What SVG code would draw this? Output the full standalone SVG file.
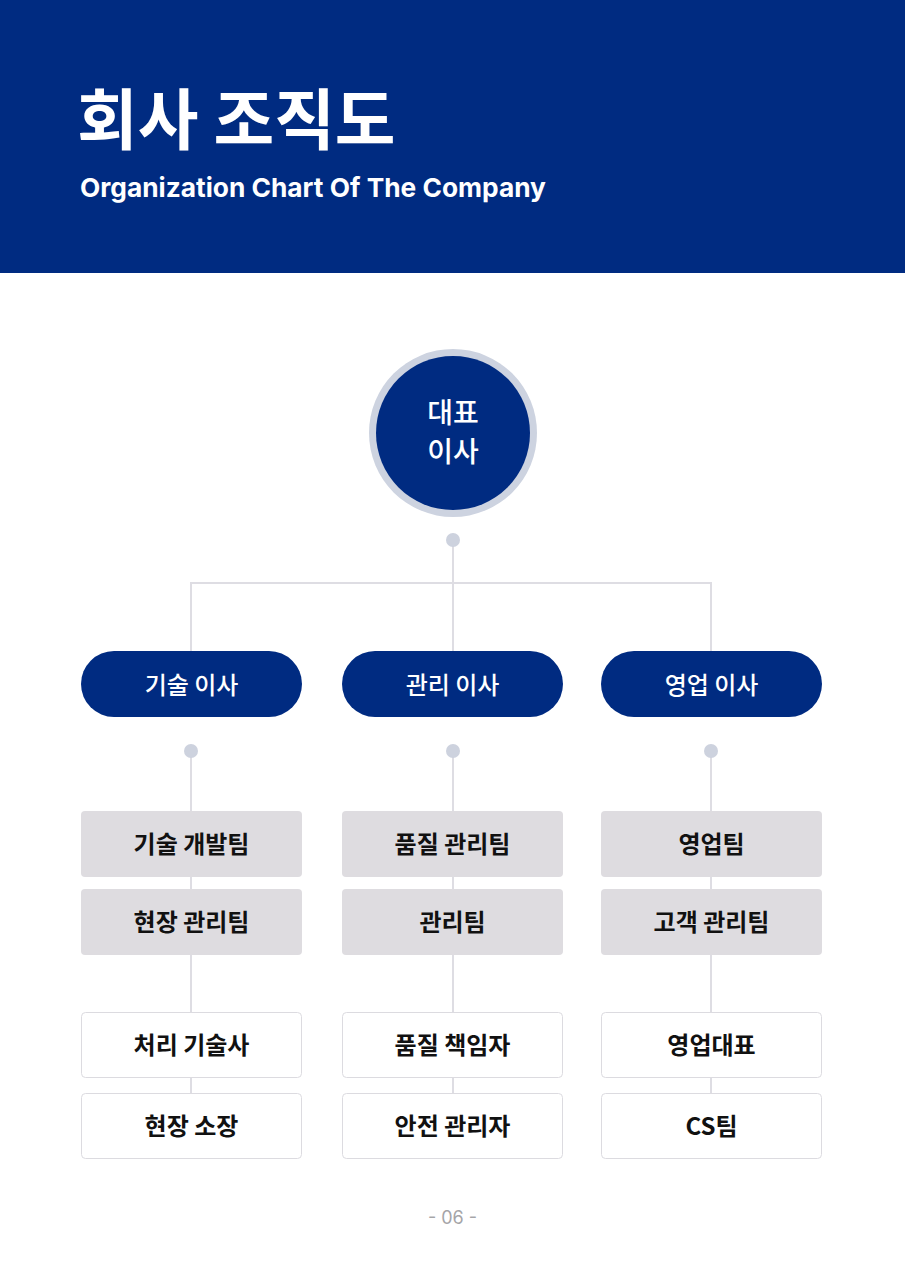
<svg xmlns="http://www.w3.org/2000/svg" width="905" height="1280" viewBox="0 0 905 1280">
<style>
.title{font-family:"Noto Sans CJK KR",sans-serif;font-size:66px;font-weight:700;fill:#fff;}
.sub{font-family:Inter,"Noto Sans",sans-serif;font-size:26.3px;font-weight:700;fill:#fff;}
.ctext{font-family:"Noto Sans CJK KR",sans-serif;font-size:28px;font-weight:500;fill:#fff;text-anchor:middle;}
.ptext{font-family:"Noto Sans CJK KR",sans-serif;font-size:24px;font-weight:500;fill:#fff;text-anchor:middle;dominant-baseline:central;}
.btext{font-family:"Noto Sans CJK KR",sans-serif;font-size:24px;font-weight:700;fill:#111;text-anchor:middle;dominant-baseline:central;}
.pill{fill:#002B81;}
.gbox{fill:#DEDCE0;}
.wbox{fill:#fff;stroke:#DCDBE0;stroke-width:1;}
.line{stroke:#DEDDE3;stroke-width:2;fill:none;}
.dot{fill:#CDD2DE;}
</style>
<rect x="0" y="0" width="905" height="1280" fill="#fff"/>
<g id="header">
<rect x="0" y="0" width="905" height="273" fill="#002B81"/>
<text class="title" x="77" y="144">회사 조직도</text>
<text class="sub" x="80" y="197">Organization Chart Of The Company</text>
</g>
<g id="connectors">
<line class="line" x1="453" y1="540" x2="453" y2="651"/>
<polyline class="line" points="191,651 191,583 711,583 711,651"/>
<line class="line" x1="191" y1="751" x2="191" y2="1094"/>
<line class="line" x1="453" y1="751" x2="453" y2="1094"/>
<line class="line" x1="711" y1="751" x2="711" y2="1094"/>
<circle class="dot" cx="453" cy="540" r="7"/>
<circle class="dot" cx="191" cy="751" r="7"/>
<circle class="dot" cx="453" cy="751" r="7"/>
<circle class="dot" cx="711" cy="751" r="7"/>
</g>
<g id="ceo">
<circle cx="453" cy="433" r="84" fill="#CDD3E0"/>
<circle cx="453" cy="433" r="77" fill="#002B81"/>
<text class="ctext" x="453" y="423">대표</text>
<text class="ctext" x="453" y="462">이사</text>
</g>
<g id="tech-director">
<rect class="pill" x="81" y="651" width="221" height="66" rx="33"/>
<text class="ptext" x="191.5" y="683">기술 이사</text>
</g>
<g id="admin-director">
<rect class="pill" x="342" y="651" width="221" height="66" rx="33"/>
<text class="ptext" x="452.5" y="683">관리 이사</text>
</g>
<g id="sales-director">
<rect class="pill" x="601" y="651" width="221" height="66" rx="33"/>
<text class="ptext" x="711.5" y="683">영업 이사</text>
</g>
<g id="tech-dev-team">
<rect class="gbox" x="81" y="811" width="221" height="66" rx="4"/>
<text class="btext" x="191.5" y="842">기술 개발팀</text>
</g>
<g id="site-mgmt-team">
<rect class="gbox" x="81" y="889" width="221" height="66" rx="4"/>
<text class="btext" x="191.5" y="920">현장 관리팀</text>
</g>
<g id="treatment-engineer">
<rect class="wbox" x="81.5" y="1012.5" width="220" height="65" rx="4"/>
<text class="btext" x="191.5" y="1043">처리 기술사</text>
</g>
<g id="site-manager">
<rect class="wbox" x="81.5" y="1093.5" width="220" height="65" rx="4"/>
<text class="btext" x="191.5" y="1124">현장 소장</text>
</g>
<g id="quality-team">
<rect class="gbox" x="342" y="811" width="221" height="66" rx="4"/>
<text class="btext" x="452.5" y="842">품질 관리팀</text>
</g>
<g id="admin-team">
<rect class="gbox" x="342" y="889" width="221" height="66" rx="4"/>
<text class="btext" x="452.5" y="920">관리팀</text>
</g>
<g id="quality-officer">
<rect class="wbox" x="342.5" y="1012.5" width="220" height="65" rx="4"/>
<text class="btext" x="452.5" y="1043">품질 책임자</text>
</g>
<g id="safety-manager">
<rect class="wbox" x="342.5" y="1093.5" width="220" height="65" rx="4"/>
<text class="btext" x="452.5" y="1124">안전 관리자</text>
</g>
<g id="sales-team">
<rect class="gbox" x="601" y="811" width="221" height="66" rx="4"/>
<text class="btext" x="711.5" y="842">영업팀</text>
</g>
<g id="customer-team">
<rect class="gbox" x="601" y="889" width="221" height="66" rx="4"/>
<text class="btext" x="711.5" y="920">고객 관리팀</text>
</g>
<g id="sales-rep">
<rect class="wbox" x="601.5" y="1012.5" width="220" height="65" rx="4"/>
<text class="btext" x="711.5" y="1043">영업대표</text>
</g>
<g id="cs-team">
<rect class="wbox" x="601.5" y="1093.5" width="220" height="65" rx="4"/>
<text class="btext" x="711.5" y="1124">CS팀</text>
</g>
<text x="452.5" y="1224" font-family="Inter,'Noto Sans',sans-serif" font-size="18" fill="#A5A5A8" text-anchor="middle">- 06 -</text>
</svg>
